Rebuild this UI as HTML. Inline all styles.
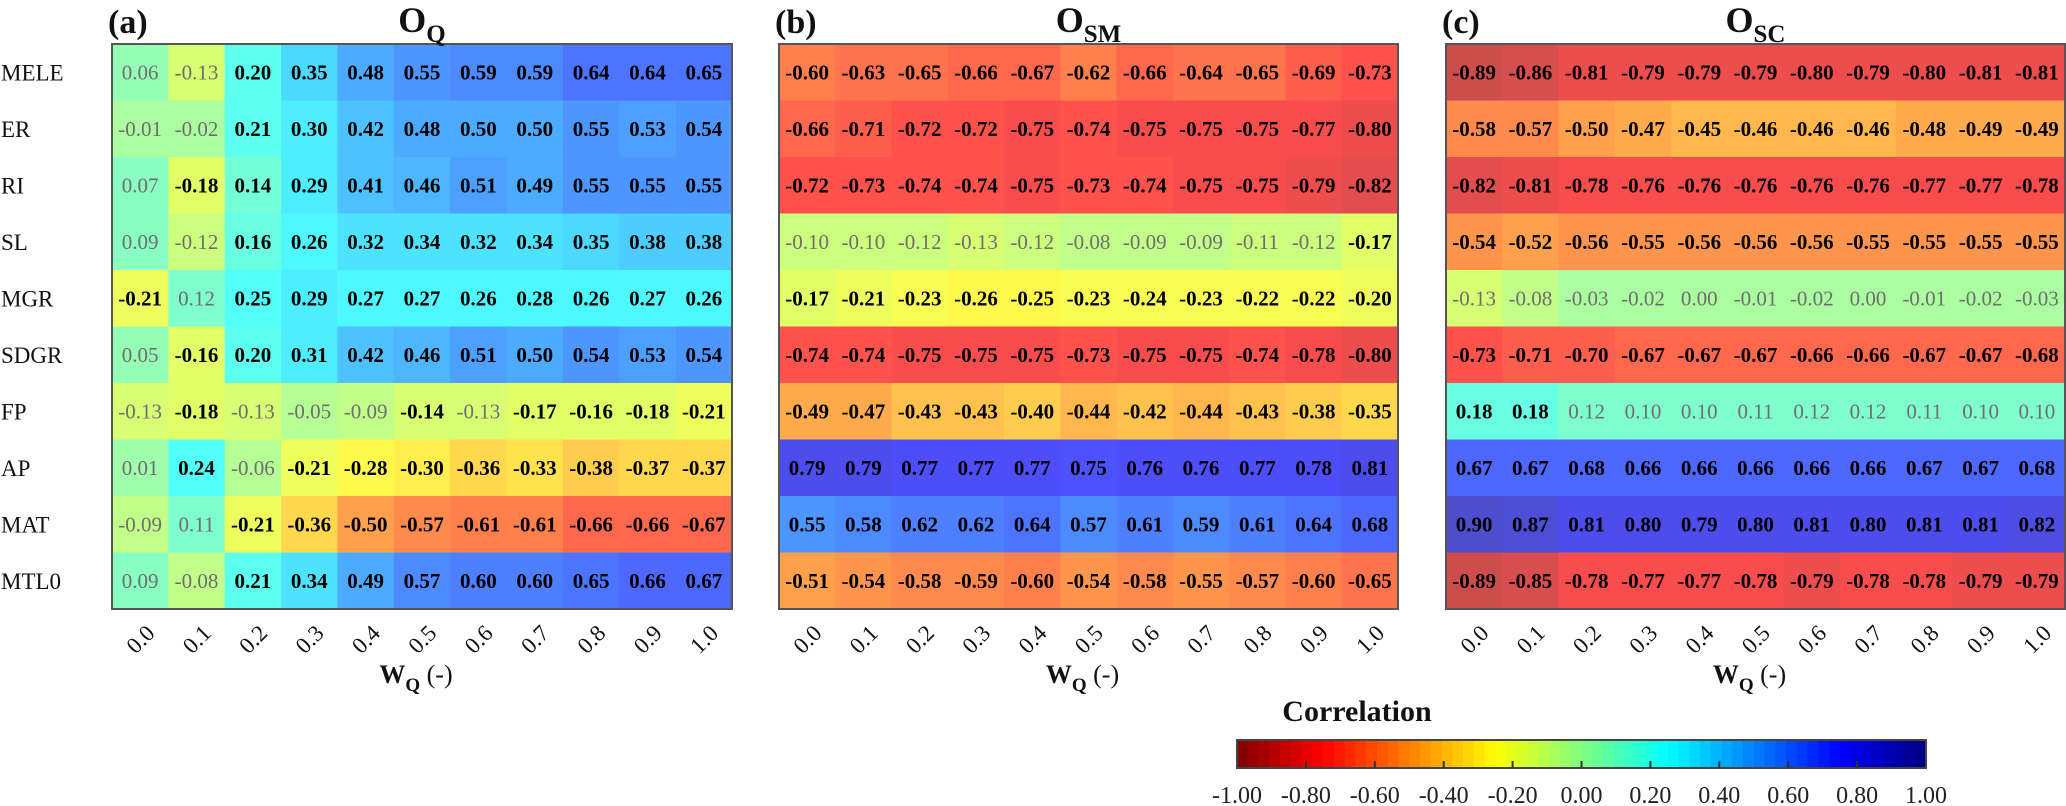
<!DOCTYPE html>
<html><head><meta charset="utf-8"><title>Correlation heatmaps</title>
<style>
html,body{margin:0;padding:0;background:#fff;}
svg{display:block;font-family:"Liberation Serif","DejaVu Serif",serif;}
</style></head>
<body>
<svg id="chart" width="2066" height="806" viewBox="0 0 2066 806" xmlns="http://www.w3.org/2000/svg"></svg>
<script>
const rowLabels = ["MELE","ER","RI","SL","MGR","SDGR","FP","AP","MAT","MTL0"];
const xTicks = ["0.0","0.1","0.2","0.3","0.4","0.5","0.6","0.7","0.8","0.9","1.0"];
const cbTicks = [-1,-0.8,-0.6,-0.4,-0.2,0,0.2,0.4,0.6,0.8,1];
const cbTickLabels = ["-1.00","-0.80","-0.60","-0.40","-0.20","0.00","0.20","0.40","0.60","0.80","1.00"];
const valuesQ = [
[0.06,-0.13,0.20,0.35,0.48,0.55,0.59,0.59,0.64,0.64,0.65],
[-0.01,-0.02,0.21,0.30,0.42,0.48,0.50,0.50,0.55,0.53,0.54],
[0.07,-0.18,0.14,0.29,0.41,0.46,0.51,0.49,0.55,0.55,0.55],
[0.09,-0.12,0.16,0.26,0.32,0.34,0.32,0.34,0.35,0.38,0.38],
[-0.21,0.12,0.25,0.29,0.27,0.27,0.26,0.28,0.26,0.27,0.26],
[0.05,-0.16,0.20,0.31,0.42,0.46,0.51,0.50,0.54,0.53,0.54],
[-0.13,-0.18,-0.13,-0.05,-0.09,-0.14,-0.13,-0.17,-0.16,-0.18,-0.21],
[0.01,0.24,-0.06,-0.21,-0.28,-0.30,-0.36,-0.33,-0.38,-0.37,-0.37],
[-0.09,0.11,-0.21,-0.36,-0.50,-0.57,-0.61,-0.61,-0.66,-0.66,-0.67],
[0.09,-0.08,0.21,0.34,0.49,0.57,0.60,0.60,0.65,0.66,0.67]];
const valuesSM = [
[-0.60,-0.63,-0.65,-0.66,-0.67,-0.62,-0.66,-0.64,-0.65,-0.69,-0.73],
[-0.66,-0.71,-0.72,-0.72,-0.75,-0.74,-0.75,-0.75,-0.75,-0.77,-0.80],
[-0.72,-0.73,-0.74,-0.74,-0.75,-0.73,-0.74,-0.75,-0.75,-0.79,-0.82],
[-0.10,-0.10,-0.12,-0.13,-0.12,-0.08,-0.09,-0.09,-0.11,-0.12,-0.17],
[-0.17,-0.21,-0.23,-0.26,-0.25,-0.23,-0.24,-0.23,-0.22,-0.22,-0.20],
[-0.74,-0.74,-0.75,-0.75,-0.75,-0.73,-0.75,-0.75,-0.74,-0.78,-0.80],
[-0.49,-0.47,-0.43,-0.43,-0.40,-0.44,-0.42,-0.44,-0.43,-0.38,-0.35],
[0.79,0.79,0.77,0.77,0.77,0.75,0.76,0.76,0.77,0.78,0.81],
[0.55,0.58,0.62,0.62,0.64,0.57,0.61,0.59,0.61,0.64,0.68],
[-0.51,-0.54,-0.58,-0.59,-0.60,-0.54,-0.58,-0.55,-0.57,-0.60,-0.65]];
const valuesSC = [
[-0.89,-0.86,-0.81,-0.79,-0.79,-0.79,-0.80,-0.79,-0.80,-0.81,-0.81],
[-0.58,-0.57,-0.50,-0.47,-0.45,-0.46,-0.46,-0.46,-0.48,-0.49,-0.49],
[-0.82,-0.81,-0.78,-0.76,-0.76,-0.76,-0.76,-0.76,-0.77,-0.77,-0.78],
[-0.54,-0.52,-0.56,-0.55,-0.56,-0.56,-0.56,-0.55,-0.55,-0.55,-0.55],
[-0.13,-0.08,-0.03,-0.02,0.00,-0.01,-0.02,0.00,-0.01,-0.02,-0.03],
[-0.73,-0.71,-0.70,-0.67,-0.67,-0.67,-0.66,-0.66,-0.67,-0.67,-0.68],
[0.18,0.18,0.12,0.10,0.10,0.11,0.12,0.12,0.11,0.10,0.10],
[0.67,0.67,0.68,0.66,0.66,0.66,0.66,0.66,0.67,0.67,0.68],
[0.90,0.87,0.81,0.80,0.79,0.80,0.81,0.80,0.81,0.81,0.82],
[-0.89,-0.85,-0.78,-0.77,-0.77,-0.78,-0.79,-0.78,-0.78,-0.79,-0.79]];

const NS = "http://www.w3.org/2000/svg";
const svg = document.getElementById("chart");
function mk(tag, attrs, parent, text){
  const e = document.createElementNS(NS, tag);
  for (const k in attrs) e.setAttribute(k, attrs[k]);
  if (text !== undefined) e.textContent = text;
  (parent || svg).appendChild(e);
  return e;
}
function jet(t){
  const r = Math.max(0, Math.min(1, 1.5 - Math.abs(4*t - 3)));
  const g = Math.max(0, Math.min(1, 1.5 - Math.abs(4*t - 2)));
  const b = Math.max(0, Math.min(1, 1.5 - Math.abs(4*t - 1)));
  return [r,g,b];
}
function colorFor(v, alpha){
  let idx = Math.floor((1 - v) / 2 * 64); idx = Math.max(0, Math.min(63, idx));
  const t = (idx + 0.5) / 64;
  const c = jet(t).map(x => Math.round(255 * (alpha * x + (1 - alpha))));
  return `rgb(${c[0]},${c[1]},${c[2]})`;
}

const panels = [
  {x0:112, x1:732, data:valuesQ, tag:"(a)", main:"O", sub:"Q", name:"oq"},
  {x0:779, x1:1398, data:valuesSM, tag:"(b)", main:"O", sub:"SM", name:"osm"},
  {x0:1446, x1:2065, data:valuesSC, tag:"(c)", main:"O", sub:"SC", name:"osc"}
];
const y0 = 44, y1 = 609;
const nR = rowLabels.length, nC = xTicks.length;
const rowH = (y1 - y0) / nR;

rowLabels.forEach((lab, i) => {
  const t = mk("text", {x:1, y:y0 + rowH*(i+0.5) + 8, "font-size":23, fill:"#111"}, svg, lab);
  
  
});

panels.forEach(p => {
  const g = mk("g", {});
  
  
  const colW = (p.x1 - p.x0) / nC;
  const xs = j => p.x0 + colW * j;
  const ys = i => y0 + rowH * i;
  p.data.forEach((row, i) => {
    row.forEach((v, j) => {
      const r = mk("rect", {x:xs(j), y:ys(i), width:colW + 0.6, height:rowH + 0.6, fill:colorFor(v, 0.7)}, g);
      
      
      const strong = Math.abs(v) >= 0.135;
      const t = mk("text", {x:xs(j) + colW/2, y:ys(i) + rowH/2 + 7, "text-anchor":"middle", "font-size":21,
        "font-weight": strong ? "bold" : "normal", fill: strong ? "#000" : "#6e6e6e"}, g, v.toFixed(2));
      
      
    });
  });
  const border = mk("rect", {x:p.x0, y:y0, width:p.x1 - p.x0, height:y1 - y0, fill:"none", stroke:"#555", "stroke-width":2}, g);
  
  
  xTicks.forEach((lab, j) => {
    const cx = xs(j) + colW/2, cy = 639;
    const t = mk("text", {x:cx, y:cy + 8, "text-anchor":"middle", "font-size":23, fill:"#111",
      transform:`rotate(-45 ${cx} ${cy})`}, g, lab);
    
    
  });
  const cxm = (p.x0 + p.x1) / 2;
  const xl = mk("text", {x:cxm - 6, y:683, "text-anchor":"middle", "font-size":26, "font-weight":"bold", fill:"#111"}, g);
  
  
  mk("tspan", {}, xl, "W");
  mk("tspan", {dy:8, "font-size":19}, xl, "Q");
  mk("tspan", {dy:-8, "font-weight":"normal"}, xl, " (-)");
  const tag = mk("text", {x:p.x0 - 4, y:33, "font-size":34, "font-weight":"bold", fill:"#111"}, g, p.tag);
  
  
  const tt = mk("text", {x:cxm, y:32, "text-anchor":"middle", "font-size":36, "font-weight":"bold", fill:"#111"}, g);
  
  
  mk("tspan", {}, tt, p.main);
  mk("tspan", {dy:10, "font-size":25}, tt, p.sub);
});

const cb = mk("g", {});


const cbx0 = 1237, cbx1 = 1926, cby0 = 740, cby1 = 768;
const cbX = v => cbx0 + (v + 1) / 2 * (cbx1 - cbx0);
for (let k = 0; k < 64; k++){
  const v = -1 + (k + 0.5) / 32;
  mk("rect", {x:cbX(-1 + k/32), y:cby0, width:(cbx1-cbx0)/64 + 0.6, height:cby1 - cby0, fill:colorFor(v, 1)}, cb);
}
mk("rect", {x:cbx0, y:cby0, width:cbx1-cbx0, height:cby1-cby0, fill:"none", stroke:"#444", "stroke-width":2}, cb);
cbTicks.forEach((v, k) => {
  if (k > 0 && k < cbTicks.length - 1)
    mk("line", {x1:cbX(v), x2:cbX(v), y1:cby1, y2:cby1 - 7, stroke:"#333", "stroke-width":2}, cb);
  const t = mk("text", {x:cbX(v), y:803, "text-anchor":"middle", "font-size":24, fill:"#222"}, cb, cbTickLabels[k]);
  
  
});
const cbt = mk("text", {x:1357, y:721, "text-anchor":"middle", "font-size":30, "font-weight":"bold", fill:"#111"}, cb, "Correlation");


</script>
</body></html>
